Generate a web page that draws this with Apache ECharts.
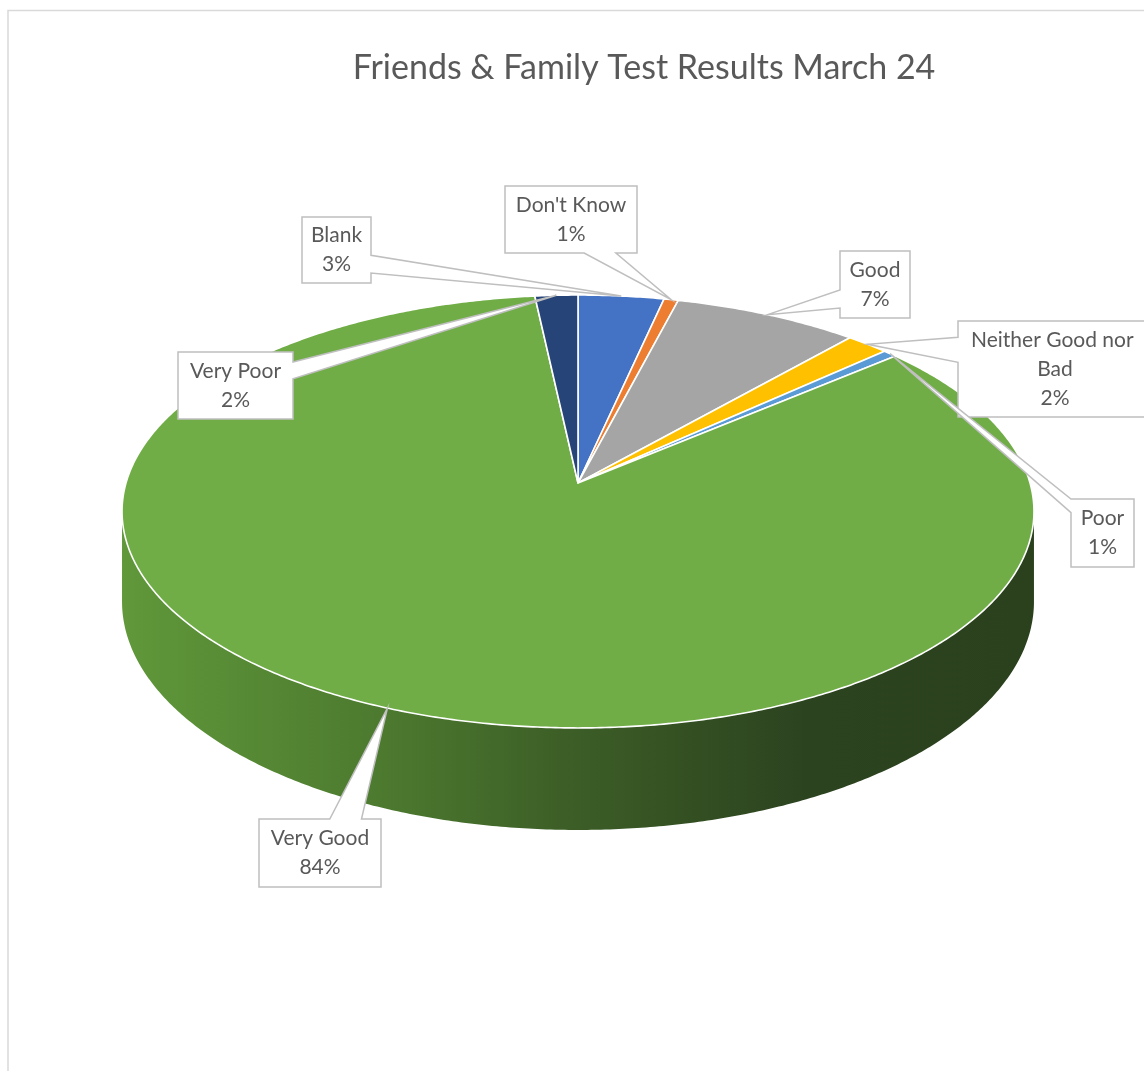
<!DOCTYPE html>
<html><head><meta charset="utf-8">
<script src="https://cdn.jsdelivr.net/npm/echarts@6/dist/echarts.min.js"></script>
<style>html,body{margin:0;padding:0;background:#fff;overflow:hidden}#c{width:1144px;height:1071px}</style>
</head><body><div id="c"></div>
<script>
// ---- data ----
const chartTitle = 'Friends & Family Test Results March 24';
const categories = ['Blank', "Don't Know", 'Good', 'Neither Good nor Bad', 'Poor', 'Very Good', 'Very Poor'];
const responses = [6, 1, 13, 3, 1, 147, 3];

// ---- styles / layout ----
const colors = ['#4472C4', '#ED7D31', '#A5A5A5', '#FFC000', '#5B9BD5', '#70AD47', '#264478'];
const view = { cx: 578, cy: 483, rx: 452, ry: 212.7, k: 0.1316, depth: 88.6 };
const callouts = [
  { box: [302, 217, 69, 66], side: 'right', base: [0.58, 0.85] },
  { box: [505, 186, 132, 67], side: 'bottom', base: [0.6, 0.84] },
  { box: [840, 251, 70, 67], side: 'left', base: [0.58, 0.85] },
  { box: [958, 321, 194, 96], side: 'left', base: [0.17, 0.43] },
  { box: [1071, 499, 63, 68], side: 'left', base: [0.0, 0.2] },
  { box: [259, 819, 122, 68], side: 'top', base: [0.58, 0.84] },
  { box: [178, 352, 115, 67], side: 'right', base: [0.15, 0.4] }
];
const textColor = '#595959';
const fontFam = 'Lato, Carlito, "Liberation Sans", sans-serif';

const total = responses.reduce((a, b) => a + b, 0);
function sliceAngles(i) {
  let s = 0;
  for (let j = 0; j < i; j++) s += responses[j];
  const a0 = s / total * 360, a1 = (s + responses[i]) / total * 360;
  return [a0, a1];
}
function proj(deg, d) {
  const t = deg * Math.PI / 180, c = Math.cos(t), sn = Math.sin(t);
  const sc = 1 / (1 + view.k * c);
  return [view.cx + view.rx * sn * sc, view.cy - view.ry * c * sc + (d || 0) * sc];
}
function arc(a0, a1, d) {
  const pts = [];
  const n = Math.max(2, Math.ceil((a1 - a0) / 0.5));
  for (let i = 0; i <= n; i++) pts.push(proj(a0 + (a1 - a0) * i / n, d));
  return pts;
}
const silR = Math.acos(-view.k) * 180 / Math.PI;
const silL = 360 - silR;

const wallGradient = new echarts.graphic.LinearGradient(122, 0, 1034, 0, [
  { offset: 0, color: '#60983a' },
  { offset: 0.3, color: '#4b782e' },
  { offset: 0.48, color: '#3d5f27' },
  { offset: 0.63, color: '#334f22' },
  { offset: 0.75, color: '#2c4320' },
  { offset: 1, color: '#2b411d' }
], true);

const seriesData = categories.map((name, i) => ({ name, value: responses[i] }));

function renderWall(params, api) {
  const i = params.dataIndex;
  const [a0, a1] = sliceAngles(i);
  const s = Math.max(a0, silR), e = Math.min(a1, silL);
  if (e <= s) return { type: 'group', children: [] };
  const top = arc(s, e, 0);
  const bot = arc(s, e, view.depth).reverse();
  return {
    type: 'polygon',
    shape: { points: top.concat(bot) },
    style: { fill: wallGradient, stroke: null }
  };
}

function renderTop(params, api) {
  const i = params.dataIndex;
  const [a0, a1] = sliceAngles(i);
  const pts = [[view.cx, view.cy]].concat(arc(a0, a1, 0));
  return {
    type: 'polygon',
    shape: { points: pts },
    style: { fill: colors[i], stroke: '#ffffff', lineWidth: 1.6, lineJoin: 'round' }
  };
}

function renderLabel(params, api) {
  const i = params.dataIndex;
  const [a0, a1] = sliceAngles(i);
  const tip = proj((a0 + a1) / 2, 0);
  const cfg = callouts[i];
  const [x, y, w, h] = cfg.box;
  const [f0, f1] = cfg.base;
  const TL = [x, y], TR = [x + w, y], BR = [x + w, y + h], BL = [x, y + h];
  let pts;
  if (cfg.side === 'top') pts = [TL, [x + w * f0, y], tip, [x + w * f1, y], TR, BR, BL];
  else if (cfg.side === 'right') pts = [TL, TR, [x + w, y + h * f0], tip, [x + w, y + h * f1], BR, BL];
  else if (cfg.side === 'bottom') pts = [TL, TR, BR, [x + w * f1, y + h], tip, [x + w * f0, y + h], BL];
  else pts = [TL, TR, BR, BL, [x, y + h * f1], tip, [x, y + h * f0]];
  const pct = Math.round(api.value(0) / total * 100) + '%';
  return {
    type: 'group',
    children: [
      {
        type: 'polygon',
        shape: { points: pts },
        style: { fill: '#ffffff', stroke: '#BFBFBF', lineWidth: 1.5, lineJoin: 'miter' }
      },
      {
        type: 'text',
        x: x + w / 2, y: y + h / 2,
        style: {
          text: categories[i] + '\n' + pct,
          width: w - 12,
          overflow: 'break',
          align: 'center', verticalAlign: 'middle',
          fill: textColor,
          font: '21px ' + fontFam,
          lineHeight: 29
        }
      }
    ]
  };
}

const chart = echarts.init(document.getElementById('c'), null, { renderer: 'canvas' });
chart.setOption({
  backgroundColor: '#ffffff',
  animation: false,
  graphic: [
    {
      type: 'rect', z: 0, silent: true,
      shape: { x: 8, y: 10.5, width: 1400, height: 1200 },
      style: { fill: null, stroke: '#D9D9D9', lineWidth: 1.5 }
    },
    {
      type: 'text', z: 5, x: 644, y: 68,
      style: { text: chartTitle, align: 'center', verticalAlign: 'middle', fill: textColor, font: '34px ' + fontFam }
    }
  ],
  series: [
    { type: 'custom', name: 'wall', coordinateSystem: 'none', z: 1, silent: true, data: seriesData, renderItem: renderWall },
    { type: 'custom', name: 'top', coordinateSystem: 'none', z: 2, data: seriesData, renderItem: renderTop },
    { type: 'custom', name: 'labels', coordinateSystem: 'none', z: 3, data: seriesData, renderItem: renderLabel }
  ]
});
</script>
</body></html>
